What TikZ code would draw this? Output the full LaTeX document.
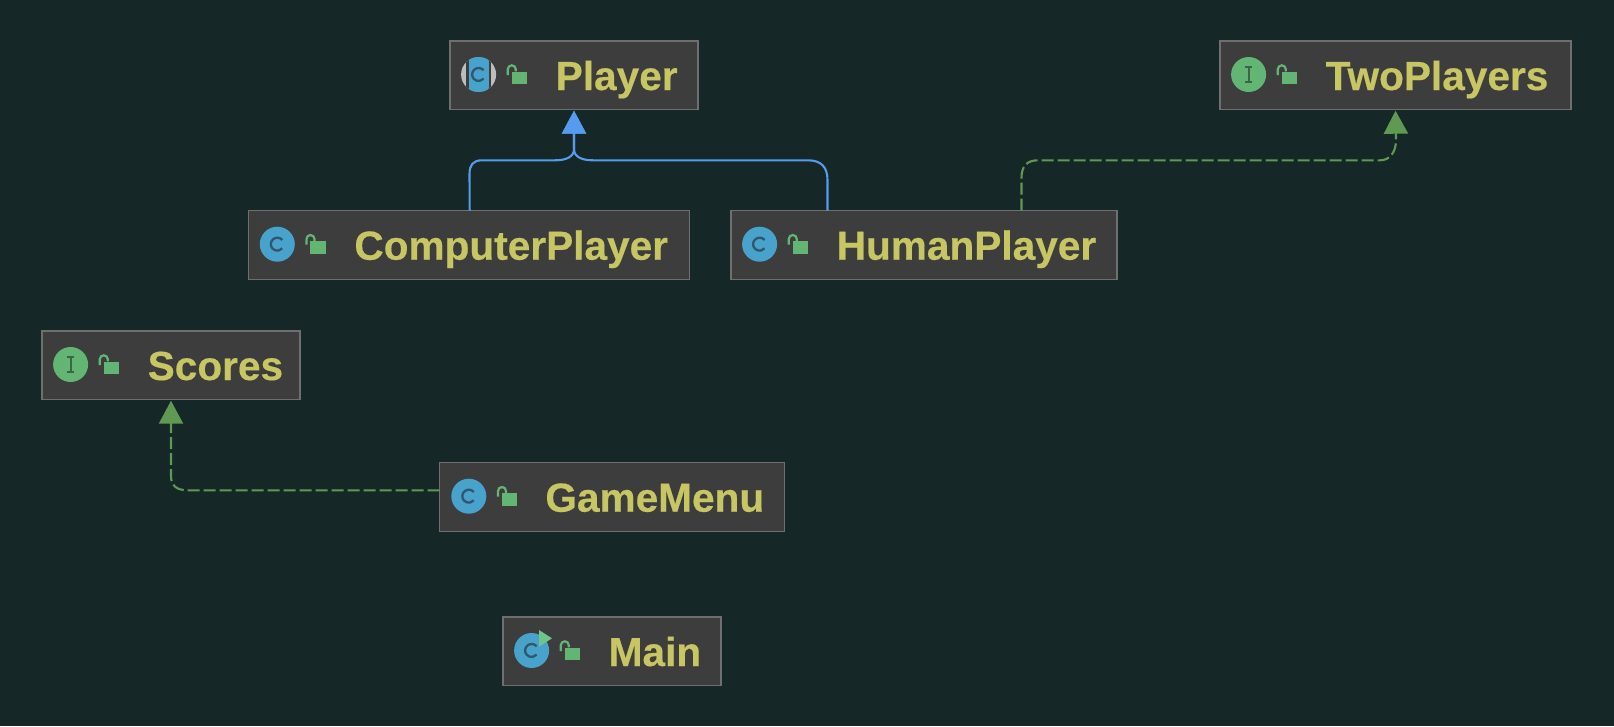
\documentclass[tikz,border=0pt]{standalone}
\usepackage{fontspec}
\setmainfont[BoldFeatures={FakeBold=0.4}]{Liberation Sans}
\usetikzlibrary{arrows.meta}
\definecolor{bgc}{HTML}{152726}
\definecolor{boxc}{HTML}{3D3D3D}
\definecolor{edgec}{HTML}{6F6F6F}
\definecolor{namec}{HTML}{C7C663}
\definecolor{classc}{HTML}{47A3CC}
\definecolor{glyphc}{HTML}{33566C}
\definecolor{ifacec}{HTML}{62B573}
\definecolor{ifaceg}{HTML}{3A6546}
\definecolor{runc}{HTML}{6CC58A}
\definecolor{greyc}{HTML}{BDBDBD}
\definecolor{extc}{HTML}{559CEE}
\definecolor{implc}{HTML}{5F9A53}
\tikzset{
  classbox/.style={draw=edgec,fill=boxc,line width=1.2pt,anchor=north west,inner sep=0pt,outer sep=0pt,
    text=namec,font=\fontsize{40.6}{40.6}\selectfont\bfseries,text height=49pt,text depth=19.7pt},
  extends/.style={draw=extc,line width=2.1pt,-{Triangle[length=23pt,width=24pt]},shorten >=1pt},
  implements/.style={draw=implc,line width=2.1pt,dash pattern=on 12pt off 4pt,-{Triangle[length=23pt,width=24pt]},shorten >=1pt},
}
% box: name, left, top, width, text
\newcommand{\classnode}[5]{\node[classbox] (#1) at (#2,#3) {\makebox[#4pt][l]{\hspace{105.7pt}#5}};}
\newcommand{\lockicon}{%
  \fill[ifacec] (62.3,31.3) rectangle (77.7,43.7);
  \draw[ifacec,line width=2.2pt] (58.5,34.7) -- (58.5,29) arc[start angle=180,end angle=0,radius=4pt] -- (66.5,31);
}
\newcommand{\cglyph}{\draw[glyphc,line width=2.3pt] (34.3,30) arc[start angle=40,end angle=320,radius=6.5pt];}
\newcommand{\classicon}[2]{\begin{scope}[shift={(#1,#2)}]
  \fill[classc] (29.3,34.2) circle[radius=17.5pt]; \cglyph \lockicon
\end{scope}}
\newcommand{\abstracticon}[2]{\begin{scope}[shift={(#1,#2)}]
  \begin{scope}
    \clip (29.3,34.2) circle[radius=17.5pt];
    \fill[greyc] (10,14) rectangle (49,54);
    \fill[boxc] (17,14) rectangle (42,54);
    \fill[classc] (19.3,14) rectangle (39.3,54);
  \end{scope}
  \cglyph \lockicon
\end{scope}}
\newcommand{\ifaceicon}[2]{\begin{scope}[shift={(#1,#2)}]
  \fill[ifacec] (29.3,34.2) circle[radius=17.5pt];
  \draw[ifaceg,line width=2pt] (29.3,27) -- (29.3,41.4) (25.5,27) -- (33.1,27) (25.5,41.4) -- (33.1,41.4);
  \lockicon
\end{scope}}
\newcommand{\mainicon}[2]{\begin{scope}[shift={(#1,#2)}]
  \fill[classc] (29.3,34.2) circle[radius=17.5pt]; \cglyph
  \fill[runc] (36.7,13.7) -- (49.7,22) -- (36.7,30.4) -- cycle;
  \lockicon
\end{scope}}
\begin{document}
\begin{tikzpicture}[x=1pt,y=-1pt]
\fill[bgc] (0,0) rectangle (1614,726);
\useasboundingbox (0,0) rectangle (1614,726);
\classnode{player}{450}{41}{248}{Player}
\classnode{twoplayers}{1220}{41}{351}{TwoPlayers}
\classnode{computer}{248.7}{210.7}{441}{ComputerPlayer}
\classnode{human}{731}{210.7}{386}{HumanPlayer}
\classnode{scores}{42}{331}{258}{Scores}
\classnode{gamemenu}{439.7}{462.7}{344.5}{GameMenu}
\classnode{main}{503}{617}{218}{Main}
\abstracticon{449.3}{40.3}
\ifaceicon{1219.3}{40.3}
\classicon{248}{210}
\classicon{730.3}{210}
\ifaceicon{41.3}{330.3}
\classicon{439.5}{462}
\mainicon{502.3}{616.3}
\coordinate (humanL) at ([xshift=-96.5pt]human.north);
\coordinate (humanR) at ([xshift=97.5pt]human.north);
\coordinate (gameW) at ([yshift=6.75pt]gamemenu.west);
\draw[extends] ([xshift=0.5pt]computer.north) -- (469.5,174) .. controls (469.5,165) and (473,160.3) .. (482,160.3) -- (555,160.3) .. controls (566,160.3) and (574,157) .. (574,149) -- (player.south);
\draw[extends] (humanL) -- (827.5,180) .. controls (827.5,167) and (821,160.3) .. (808,160.3) -- (593,160.3) .. controls (582,160.3) and (574,157) .. (574,149) -- (player.south);
\draw[implements] (humanR) -- (1021.5,178) .. controls (1021.5,166) and (1027,160.3) .. (1038,160.3) -- (1380,160.3) .. controls (1390,160.3) and (1396,152) .. (1396,140) -- (twoplayers.south);
\draw[implements] (gameW) -- (188,0 |- gameW) .. controls (177,490.3) and (171,486) .. (171,476) -- (scores.south);
\end{tikzpicture}
\end{document}
